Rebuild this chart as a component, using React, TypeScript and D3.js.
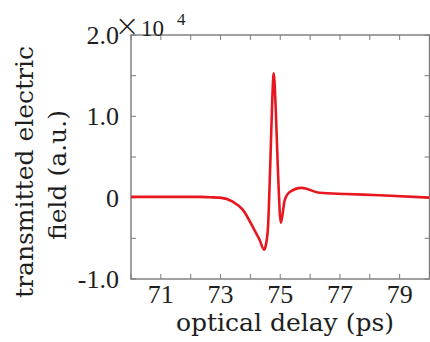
import React from "react";
import * as d3 from "d3";

// optical delay (ps)
const delay = [70.0, 72.3, 72.64, 72.98, 73.41, 73.75, 74.08, 74.31, 74.46, 74.52, 74.59, 74.67, 74.74, 74.78, 74.85, 74.93, 75.02, 75.15, 75.32, 75.71, 76.32, 77.21, 78.33, 80.0];
// transmitted field (×10^4 a.u.)
const field = [0.01, 0.01, 0.005, 0.0, -0.05, -0.15, -0.36, -0.52, -0.64, -0.58, -0.36, 0.46, 1.28, 1.53, 1.08, 0.26, -0.31, -0.03, 0.07, 0.12, 0.06, 0.045, 0.03, 0.0];

const xTicks = [70, 71, 72, 73, 74, 75, 76, 77, 78, 79, 80];
const xLabels = [71, 73, 75, 77, 79];
const yTicks = [-1.0, -0.5, 0, 0.5, 1.0, 1.5, 2.0];
const yLabels = [
  { v: 2.0, t: "2.0" },
  { v: 1.0, t: "1.0" },
  { v: 0, t: "0" },
  { v: -1.0, t: "-1.0" },
];

const W = 430;
const H = 342;

export default function App() {
  const x = d3.scaleLinear().domain([70, 80]).range([131, 429.5]);
  const y = d3.scaleLinear().domain([-1, 2]).range([279, 35]);
  const pts: [number, number][] = delay.map((d, i) => [d, field[i]]);
  const line = d3
    .line<[number, number]>()
    .x((d) => x(d[0]))
    .y((d) => y(d[1]))
    .curve(d3.curveMonotoneX);

  const axisColor = "#7a7a7a";
  const textColor = "#1e1e1e";
  const x0 = x(70), x1 = x(80), yTop = y(2), yBot = y(-1);
  const tickLen = 5;

  return (
    <svg
      width={W}
      height={H}
      style={{ position: "absolute", left: 0, top: 0, background: "#fff" }}
      fontFamily="'DejaVu Serif', serif"
    >
      <defs>
        <clipPath id="plot">
          <rect x={x0} y={yTop} width={x1 - x0} height={yBot - yTop} />
        </clipPath>
      </defs>
      {/* box */}
      <rect x={x0} y={yTop} width={x1 - x0} height={yBot - yTop} fill="none" stroke={axisColor} strokeWidth={1.4} />
      {/* x ticks bottom & top */}
      {xTicks.map((t) => (
        <g key={"xt" + t}>
          <line x1={x(t)} x2={x(t)} y1={yBot} y2={yBot - tickLen} stroke={axisColor} strokeWidth={1} />
          <line x1={x(t)} x2={x(t)} y1={yTop} y2={yTop + tickLen} stroke={axisColor} strokeWidth={1} />
        </g>
      ))}
      {/* y ticks left & right */}
      {yTicks.map((t) => (
        <g key={"yt" + t}>
          <line x1={x0} x2={x0 + tickLen} y1={y(t)} y2={y(t)} stroke={axisColor} strokeWidth={1} />
          <line x1={x1} x2={x1 - tickLen} y1={y(t)} y2={y(t)} stroke={axisColor} strokeWidth={1} />
        </g>
      ))}
      {/* data */}
      <path d={line(pts) || ""} fill="none" stroke="#e8161e" strokeWidth={2.6} strokeLinejoin="round" clipPath="url(#plot)" />
      {/* x tick labels */}
      {xLabels.map((t) => (
        <text key={"xl" + t} x={x(t)} y={303} textAnchor="middle" fontSize={26} fill={textColor} fontFamily="'Liberation Serif', serif">
          {t}
        </text>
      ))}
      {/* y tick labels */}
      {yLabels.map((d) => (
        <text key={"yl" + d.t} x={119} y={y(d.v) + 9} textAnchor="end" fontSize={26} fill={textColor} fontFamily="'Liberation Serif', serif">
          {d.t}
        </text>
      ))}
      {/* exponent */}
      <text x={127} y={36} textAnchor="middle" fontSize={30} fill={textColor} fontFamily="'DejaVu Sans', sans-serif" fontWeight={200}>
        ×
      </text>
      <text x={141} y={36} fontSize={23} fill={textColor} fontFamily="'Liberation Serif', serif">
        10
      </text>
      <text x={177} y={25} fontSize={17} fill={textColor} fontFamily="'Liberation Serif', serif">
        4
      </text>
      {/* x title */}
      <text x={285} y={331} textAnchor="middle" fontSize={25} fill={textColor}>
        optical delay (ps)
      </text>
      {/* y title */}
      <text transform="translate(33,172) rotate(-90)" textAnchor="middle" fontSize={25} fill={textColor}>
        transmitted electric
      </text>
      <text transform="translate(66,175) rotate(-90)" textAnchor="middle" fontSize={25} fill={textColor}>
        field (a.u.)
      </text>
    </svg>
  );
}
